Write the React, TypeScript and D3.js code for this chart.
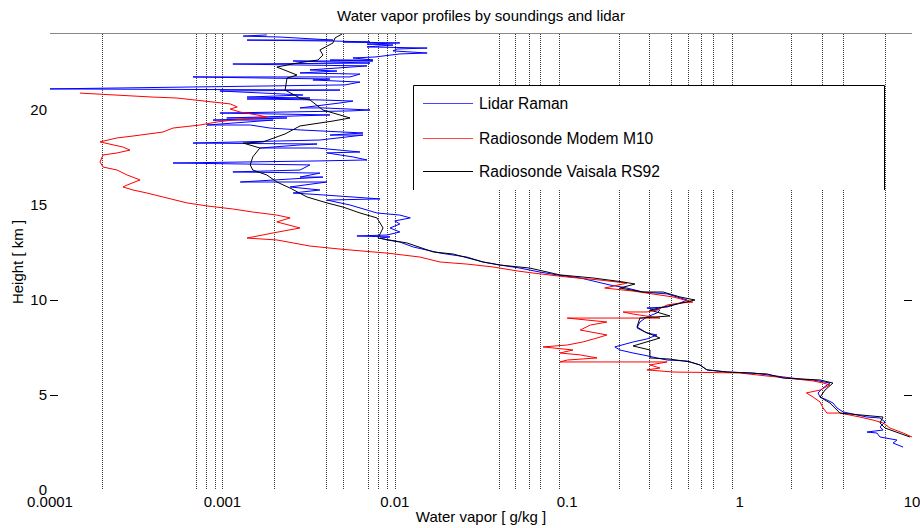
import React from "react";
import * as d3 from "d3";

// [height km, water vapor mixing ratio g/kg]
const lidarRaman: [number, number][] = [
  [23.95, 0.00181], [23.89, 0.00132], [23.84, 0.00216], [23.68, 0.00438], [23.68, 0.00139],
  [23.63, 0.00438], [23.58, 0.00718], [23.58, 0.00501], [23.53, 0.0107], [23.47, 0.0069],
  [23.42, 0.00976], [23.32, 0.0069], [23.26, 0.0154], [23.21, 0.0103], [23.11, 0.00976],
  [23.0, 0.0154], [22.95, 0.0107], [22.79, 0.00767], [22.74, 0.00572], [22.63, 0.00747],
  [22.63, 0.00421], [22.58, 0.00747], [22.58, 0.00257], [22.47, 0.00718], [22.42, 0.00115],
  [22.37, 0.00271], [22.32, 0.0069], [22.11, 0.00322], [22.05, 0.00462], [21.95, 0.00282],
  [21.89, 0.00628], [21.74, 0.0055], [21.74, 0.000675], [21.63, 0.00421], [21.58, 0.00335],
  [21.47, 0.00628], [21.32, 0.00514], [21.11, 0.0001], [21.05, 0.00481], [21.0, 0.000968],
  [20.79, 0.00293], [20.68, 0.00139], [20.63, 0.00322], [20.58, 0.00139], [20.53, 0.00368],
  [20.47, 0.00572], [20.37, 0.00481], [20.11, 0.00282], [20.11, 0.00383], [20.0, 0.00718],
  [19.95, 0.0055], [19.84, 0.000968], [19.74, 0.00421], [19.58, 0.00106], [19.58, 0.00237],
  [19.47, 0.000882], [19.47, 0.00197], [19.21, 0.000814], [19.21, 0.00145], [19.05, 0.00189],
  [18.95, 0.00282], [18.79, 0.00654], [18.68, 0.00421], [18.68, 0.00654], [18.42, 0.00368],
  [18.26, 0.000675], [18.21, 0.00354], [18.16, 0.00282], [18.0, 0.00165], [18.0, 0.00354],
  [17.79, 0.00628], [17.74, 0.00404], [17.53, 0.00572], [17.37, 0.0069], [17.32, 0.00368],
  [17.21, 0.000517], [17.11, 0.00322], [16.84, 0.00282], [16.74, 0.00115], [16.68, 0.00368],
  [16.47, 0.00282], [16.47, 0.00383], [16.21, 0.00127], [16.21, 0.00404], [15.95, 0.00247],
  [15.79, 0.00368], [15.63, 0.00257], [15.53, 0.00383], [15.32, 0.00821], [15.26, 0.00404],
  [15.0, 0.0055], [14.58, 0.00788], [14.47, 0.0107], [14.32, 0.0123], [14.16, 0.01],
  [14.0, 0.0107], [13.79, 0.00938], [13.58, 0.0107], [13.42, 0.00901], [13.37, 0.00603],
  [13.32, 0.00938], [13.26, 0.00821], [13.16, 0.00901], [13.05, 0.0107], [12.79, 0.0128],
  [12.47, 0.0183], [12.26, 0.0262], [12.0, 0.0325], [11.84, 0.0408], [11.68, 0.0532],
  [11.47, 0.0695], [11.32, 0.0873], [11.16, 0.119], [10.95, 0.149], [10.79, 0.177],
  [10.63, 0.222], [10.42, 0.275], [10.32, 0.38], [10.16, 0.434], [10.0, 0.496],
  [9.84, 0.451], [9.63, 0.38], [9.58, 0.29], [9.47, 0.345], [9.32, 0.332],
  [9.11, 0.29], [8.84, 0.264], [8.53, 0.254], [8.26, 0.29], [8.16, 0.332],
  [7.95, 0.29], [7.79, 0.241], [7.53, 0.189], [7.37, 0.202], [7.21, 0.241],
  [7.11, 0.275], [6.95, 0.332], [6.84, 0.38], [6.79, 0.496], [6.58, 0.589],
  [6.32, 0.647], [6.21, 0.846], [6.16, 1.19], [5.95, 1.79], [5.84, 2.24],
  [5.79, 2.67], [5.63, 3.34], [5.37, 3.05], [5.11, 2.85], [4.89, 2.93],
  [4.74, 3.21], [4.58, 3.48], [4.32, 3.67], [4.11, 3.98], [3.95, 4.8],
  [3.84, 5.48], [3.79, 6.52], [3.58, 6.98], [3.32, 6.52], [3.16, 6.8],
  [3.05, 5.48], [3.0, 6.26], [2.79, 6.52], [2.63, 8.18], [2.47, 7.77], [2.26, 8.88],
];

const modemM10: [number, number][] = [
  [20.89, 0.000149], [20.68, 0.000396], [20.63, 0.000545], [20.42, 0.000882], [20.32, 0.00111],
  [20.16, 0.00122], [20.05, 0.00111], [19.89, 0.00127], [19.74, 0.00159], [19.63, 0.00181],
  [19.47, 0.00115], [19.37, 0.00093], [19.21, 0.000741], [19.05, 0.000517], [18.84, 0.000452],
  [18.63, 0.000303], [18.53, 0.000245], [18.32, 0.000195], [18.05, 0.000265], [17.89, 0.000291],
  [17.74, 0.000245], [17.63, 0.000203], [17.26, 0.000195], [17.0, 0.000203], [16.84, 0.000245],
  [16.58, 0.00028], [16.32, 0.000333], [16.05, 0.00028], [15.95, 0.000265], [15.79, 0.000303],
  [15.63, 0.000365], [15.37, 0.000477], [15.11, 0.000623], [14.95, 0.000814], [14.79, 0.00115],
  [14.63, 0.0015], [14.47, 0.00207], [14.32, 0.00247], [14.11, 0.00207], [13.79, 0.00282],
  [13.53, 0.00197], [13.26, 0.00139], [13.16, 0.00207], [12.84, 0.00322], [12.68, 0.00481],
  [12.53, 0.00747], [12.47, 0.00901], [12.26, 0.014], [12.0, 0.0183], [11.89, 0.0262],
  [11.74, 0.0371], [11.53, 0.0512], [11.42, 0.0633], [11.21, 0.1], [11.05, 0.155],
  [10.89, 0.222], [10.63, 0.165], [10.47, 0.241], [10.16, 0.411], [9.89, 0.536],
  [9.84, 0.451], [9.74, 0.38], [9.47, 0.332], [9.37, 0.29], [9.37, 0.211],
  [9.26, 0.241], [9.05, 0.345], [9.05, 0.1], [8.84, 0.17], [8.68, 0.136],
  [8.42, 0.119], [8.16, 0.17], [8.0, 0.149], [7.79, 0.123], [7.63, 0.1],
  [7.53, 0.0724], [7.37, 0.108], [7.21, 0.0908], [7.11, 0.119], [6.95, 0.149],
  [6.84, 0.1], [6.74, 0.0908], [6.74, 0.38], [6.58, 0.302], [6.42, 0.345],
  [6.32, 0.29], [6.21, 0.411], [6.16, 1.0], [6.0, 1.44], [5.95, 1.65],
  [5.74, 2.67], [5.63, 3.05], [5.53, 3.34], [5.26, 2.93], [5.11, 2.44],
  [4.89, 2.67], [4.63, 2.93], [4.32, 3.05], [4.05, 3.21], [4.05, 3.82],
  [3.84, 4.99], [3.68, 5.95], [3.53, 6.8], [3.26, 7.45], [3.0, 8.88], [2.79, 10.0],
];

const vaisalaRS92: [number, number][] = [
  [24.0, 0.00494], [23.79, 0.0045], [23.53, 0.00438], [23.16, 0.00368], [22.89, 0.00383],
  [22.63, 0.00358], [22.47, 0.00271], [22.26, 0.00207], [22.05, 0.00237], [21.84, 0.00271],
  [21.68, 0.00237], [21.05, 0.00231], [20.63, 0.00282], [20.53, 0.00322], [20.0, 0.00383],
  [19.58, 0.0055], [19.42, 0.00438], [19.16, 0.00282], [18.74, 0.00231], [18.32, 0.00172],
  [18.26, 0.00132], [18.0, 0.00165], [17.53, 0.0015], [17.11, 0.00145], [16.84, 0.0015],
  [16.58, 0.00181], [16.21, 0.00207], [15.89, 0.00247], [15.42, 0.0031], [15.11, 0.00404],
  [14.89, 0.00501], [14.58, 0.00628], [14.32, 0.00788], [13.79, 0.00855], [13.26, 0.00799],
  [13.0, 0.0118], [12.53, 0.0167], [12.42, 0.0218], [12.0, 0.0325], [11.84, 0.0408],
  [11.68, 0.0608], [11.32, 0.0908], [11.16, 0.141], [10.95, 0.211], [10.84, 0.247],
  [10.63, 0.202], [10.42, 0.275], [10.42, 0.36], [10.16, 0.451], [10.0, 0.551],
  [9.74, 0.411], [9.47, 0.302], [9.16, 0.395], [9.05, 0.264], [8.58, 0.254],
  [8.32, 0.283], [8.0, 0.345], [7.58, 0.241], [7.37, 0.302], [6.95, 0.302],
  [6.89, 0.395], [6.74, 0.515], [6.58, 0.589], [6.32, 0.647], [6.21, 0.845],
  [6.11, 1.44], [5.89, 1.79], [5.79, 2.93], [5.63, 3.48], [5.26, 3.13],
  [4.89, 2.93], [4.58, 3.34], [4.05, 3.82], [3.84, 6.79], [3.53, 6.52],
  [3.26, 6.98], [2.79, 9.73],
];

const xTickValues = [1e-4, 1e-3, 1e-2, 1e-1, 1, 10];
const xTickLabels = ["0.0001", "0.001", "0.01", "0.1", "1", "10"];
const yTickValues = [0, 5, 10, 15, 20];
const yTickMarkValues = [5, 10];
const gridValues = [
  2e-4, 7e-4, 8e-4, 9e-4, 1e-3, 2e-3, 4e-3, 5e-3, 7e-3, 8e-3, 9e-3, 1e-2,
  4e-2, 5e-2, 6e-2, 7e-2, 9e-2, 0.2, 0.3, 0.4, 0.5, 0.6, 0.7, 0.9, 2, 3, 4, 7,
];
const legendLabels = ["Lidar Raman", "Radiosonde Modem M10", "Radiosonde Vaisala RS92"];
const seriesColors = ["#0000ff", "#ff0000", "#000000"];
const legendColors = ["#4646ff", "#ff4646", "#000000"];

const W = 920;
const H = 528;
const FONT = "'Liberation Sans', Arial, Helvetica, sans-serif";

export default function App() {
  const x = d3.scaleLog().domain([1e-4, 10]).range([50, 912]);
  const y = d3.scaleLinear().domain([0, 24]).range([490, 34]);
  const line = d3
    .line<[number, number]>()
    .x((d) => x(d[1]))
    .y((d) => y(d[0]));
  const series = [lidarRaman, modemM10, vaisalaRS92];
  const legendYs = [103.5, 138.5, 171.5];

  return (
    <svg
      width={W}
      height={H}
      style={{ position: "absolute", left: 0, top: 0, background: "#fff" }}
      fontFamily={FONT}
    >
      <rect x={0} y={0} width={W} height={H} fill="#fff" />
      <text x={481} y={21} textAnchor="middle" fontSize={15} fill="#000">
        Water vapor profiles by soundings and lidar
      </text>
      {gridValues.map((g, i) => (
        <line
          key={"g" + i}
          x1={Math.round(x(g)) + 0.5}
          x2={Math.round(x(g)) + 0.5}
          y1={y(24)}
          y2={y(0)}
          stroke="#3a3a3a"
          strokeWidth={1}
          strokeDasharray="1,1"
        />
      ))}
      <line x1={50} x2={912} y1={33.5} y2={33.5} stroke="#888" strokeWidth={1} />
      {yTickMarkValues.map((t) => (
        <g key={"tm" + t}>
          <line x1={50} x2={58} y1={Math.round(y(t)) + 0.5} y2={Math.round(y(t)) + 0.5} stroke="#000" />
          <line x1={904} x2={912} y1={Math.round(y(t)) + 0.5} y2={Math.round(y(t)) + 0.5} stroke="#000" />
        </g>
      ))}
      {series.map((s, i) => (
        <path
          key={"s" + i}
          d={line(s) || ""}
          fill="none"
          stroke={seriesColors[i]}
          strokeWidth={1}
          strokeLinejoin="round"
        />
      ))}
      <rect x={413} y={85} width={471} height={105} fill="#fff" />
      <path d="M413.5,190 V85.5 H884.5 V190" fill="none" stroke="#000" strokeWidth={1} />
      {legendLabels.map((l, i) => (
        <g key={"l" + i}>
          <line x1={423} x2={473} y1={legendYs[i]} y2={legendYs[i]} stroke={legendColors[i]} strokeWidth={1.2} />
          <text x={479} y={legendYs[i] + 5.5} fontSize={15.6} fill="#000">
            {l}
          </text>
        </g>
      ))}
      {xTickValues.map((t, i) => (
        <text key={"xt" + i} x={x(t)} y={507} textAnchor="middle" fontSize={15} fill="#000">
          {xTickLabels[i]}
        </text>
      ))}
      {yTickValues.map((t) => (
        <text key={"yt" + t} x={47} y={y(t) + 5.4} textAnchor="end" fontSize={15} fill="#000">
          {t}
        </text>
      ))}
      <text x={481} y={522} textAnchor="middle" fontSize={15} fill="#000">
        Water vapor [ g/kg ]
      </text>
      <text
        transform={`translate(23,262) rotate(-90)`}
        textAnchor="middle"
        fontSize={15}
        fill="#000"
      >
        Height [ km ]
      </text>
    </svg>
  );
}
